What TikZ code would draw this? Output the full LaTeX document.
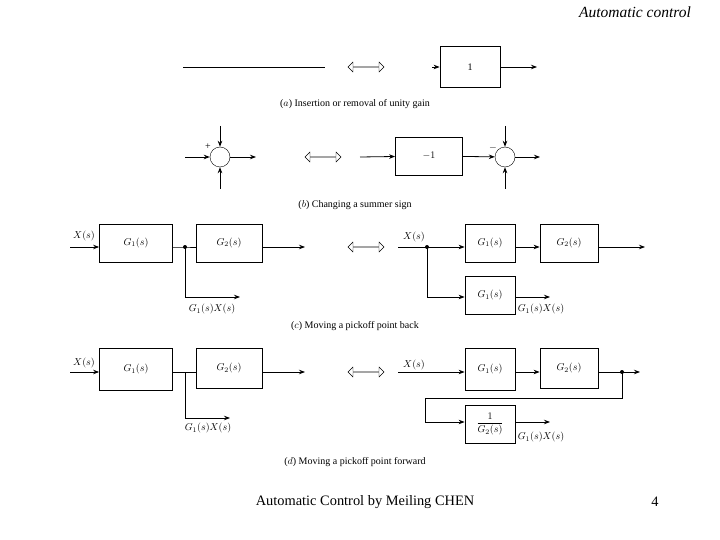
\documentclass[tikz,border=0pt]{standalone}
\usepackage{fontspec}
\setmainfont{Liberation Serif}
\usetikzlibrary{shapes.arrows,arrows.meta}
\begin{document}
\begin{tikzpicture}[x=1pt,y=-1pt,
  blk/.style={draw,thick,minimum width=60pt,minimum height=38pt,font=\normalsize,anchor=center,inner sep=1pt},
  sig/.style={thick,-{Stealth[length=6pt]}},
  sum/.style={draw,circle,minimum size=20pt,inner sep=0},
  dbl/.style={double arrow,draw,minimum height=36pt,minimum width=10pt,double arrow head extend=2pt,inner sep=0},
  lab/.style={font=\normalsize},
  captxt/.style={font=\normalsize}]
\useasboundingbox (0,0) rectangle (720,540);
\node[font=\itshape\fontsize{15.5}{18}\selectfont] (hdr) at (635,12) {Automatic control};
\node[font=\Large] (ftr) at (365,502) {Automatic Control by Meiling CHEN};
\node[font=\Large] (pg) at (655,502) {4};
% (a)
\coordinate (a1) at (183,67); \coordinate (a2) at (325,67);
\draw[thick] (a1) -- (a2);
\node[dbl] (da) at (366,67) {};
\node[draw,thick,minimum width=60pt,minimum height=41pt,font=\normalsize] (one) at (470,67) {1};
\coordinate (ain) at (432,67); \coordinate (aout) at (537,67);
\draw[sig] (ain) -- (one); \draw[sig] (one) -- (aout);
\node[captxt] (capa) at (355,104) {($a$) Insertion or removal of unity gain};
% (b)
\node[sum] (s1) at (220,157) {};
\coordinate (s1l) at (185,157); \coordinate (s1t) at (220,126); \coordinate (s1b) at (220,189); \coordinate (s1o) at (256,157);
\draw[sig] (s1l) -- (s1); \draw[sig] (s1t) -- (s1); \draw[sig] (s1b) -- (s1); \draw[sig] (s1) -- (s1o);
\node[lab] (pl) at (208,147) {+};
\node[dbl] (db) at (323,157) {};
\node[draw,thick,minimum width=67pt,minimum height=38pt,font=\normalsize] (m1) at (429,156) {$-1$};
\coordinate (bin) at (360,157);
\draw[sig] (bin) -- (m1);
\node[sum] (s2) at (505,157) {};
\draw[sig] (m1) -- (s2);
\coordinate (s2t) at (505,126); \coordinate (s2b) at (505,189); \coordinate (s2o) at (540,157);
\draw[sig] (s2t) -- (s2); \draw[sig] (s2b) -- (s2); \draw[sig] (s2) -- (s2o);
\node[lab] (mi) at (493,148) {$-$};
\node[captxt] (capb) at (355,205) {($b$) Changing a summer sign};
% (c)
\node[blk,minimum width=73pt] (c1) at (136,243) {$G_1(s)$};
\node[blk,minimum width=66pt] (c2) at (229,243) {$G_2(s)$};
\coordinate (cx) at (70,247);
\node[lab] (cxl) at (84,236) {$X(s)$};
\draw[sig] (cx) -- (c1.west|-cx);
\coordinate (cp) at (185,247);
\draw[thick] (c1.east|-cp) -- (cp) -- (c2.west|-cp);
\fill (cp) circle (2pt);
\coordinate (cc) at (185,297); \coordinate (ce) at (240,297);
\draw[sig] (cp) -- (cc) -- (ce);
\node[lab] (cl1) at (212,309) {$G_1(s)X(s)$};
\coordinate (co) at (305,247);
\draw[sig] (c2.east|-co) -- (co);
\node[dbl] (dc) at (366,247) {};
\node[lab] (cxr) at (414,237) {$X(s)$};
\node[blk,minimum width=50pt] (c3) at (490,243) {$G_1(s)$};
\node[blk,minimum width=58pt] (c4) at (569,243) {$G_2(s)$};
\node[blk,minimum width=50pt] (c5) at (490,295) {$G_1(s)$};
\coordinate (cx2) at (398,247); \coordinate (cp2) at (427,247);
\draw[thick] (cx2) -- (cp2); \draw[sig] (cp2) -- (c3.west|-cp2);
\fill (cp2) circle (2pt);
\coordinate (cc2) at (427,297);
\draw[sig] (cp2) -- (cc2) -- (c5.west|-cc2);
\draw[sig] (c3.east|-cp2) -- (c4.west|-cp2);
\coordinate (co2) at (645,247);
\draw[sig] (c4.east|-co2) -- (co2);
\coordinate (ce2) at (550,297);
\draw[sig] (c5.east|-ce2) -- (ce2);
\node[lab] (cl2) at (541,309) {$G_1(s)X(s)$};
\node[captxt] (capc) at (355,326) {($c$) Moving a pickoff point back};
% (d)
\node[blk,minimum width=73pt,minimum height=42pt] (d1) at (136,369) {$G_1(s)$};
\node[blk,minimum width=66pt,minimum height=40pt] (d2) at (229,368) {$G_2(s)$};
\coordinate (dx) at (70,372);
\node[lab] (dxl) at (84,363) {$X(s)$};
\draw[sig] (dx) -- (d1.west|-dx);
\coordinate (dp) at (185,372);
\draw[thick] (d1.east|-dp) -- (d2.west|-dp);
\coordinate (dc) at (185,418); \coordinate (de) at (230,418);
\draw[sig] (dp) -- (dc) -- (de);
\node[lab] (dl1) at (208,428) {$G_1(s)X(s)$};
\coordinate (do) at (305,372);
\draw[sig] (d2.east|-do) -- (do);
\node[dbl] (dd) at (366,372) {};
\node[lab] (dxr) at (414,365) {$X(s)$};
\node[blk,minimum width=50pt,minimum height=42pt] (d3) at (490,369) {$G_1(s)$};
\node[blk,minimum width=58pt,minimum height=40pt] (d4) at (569,368) {$G_2(s)$};
\node[blk,minimum width=50pt] (d5) at (490,424) {$\displaystyle\frac{1}{G_2(s)}$};
\coordinate (dx2) at (398,372);
\draw[sig] (dx2) -- (d3.west|-dx2);
\draw[sig] (d3.east|-dx2) -- (d4.west|-dx2);
\coordinate (dp2) at (622,372); \coordinate (do2) at (640,372);
\draw[sig] (d4.east|-dp2) -- (do2);
\fill (dp2) circle (2pt);
\coordinate (dq1) at (622,398); \coordinate (dq2) at (425,398); \coordinate (dq3) at (425,422);
\draw[sig] (dp2) -- (dq1) -- (dq2) -- (dq3) -- (d5.west|-dq3);
\coordinate (de2) at (550,422);
\draw[sig] (d5.east|-de2) -- (de2);
\node[lab] (dl2) at (541,437) {$G_1(s)X(s)$};
\node[captxt] (capd) at (355,462) {($d$) Moving a pickoff point forward};
\end{tikzpicture}
\end{document}
